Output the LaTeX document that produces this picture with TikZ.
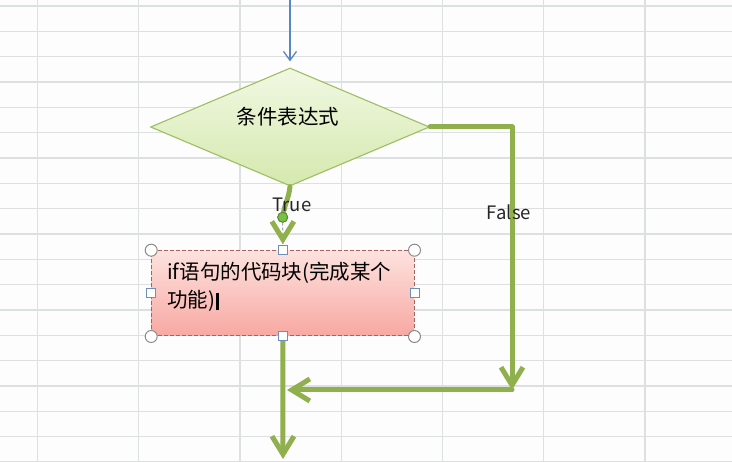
\documentclass[tikz,border=0pt]{standalone}
\usepackage{fontspec}
\newfontfamily\cjk{Noto Sans CJK SC}
\usetikzlibrary{arrows.meta,shapes.geometric}

\definecolor{sheetbg}{HTML}{FCFDFC}
\definecolor{gridgray}{HTML}{DDE0E1}
\definecolor{flowgreen}{HTML}{8FB04C}
\definecolor{diamondedge}{HTML}{9FBD62}
\definecolor{diamondtop}{HTML}{F1F8E2}
\definecolor{diamondbot}{HTML}{D5E9AE}
\definecolor{blocktop}{HTML}{FDE2DE}
\definecolor{blockbot}{HTML}{F8A8A2}
\definecolor{blockedge}{HTML}{A8625F}
\definecolor{entryblue}{HTML}{5B86C6}
\definecolor{handlegray}{HTML}{8C8C8C}
\definecolor{handleblue}{HTML}{6E8EBD}
\definecolor{dotgreen}{HTML}{79C043}

\newcommand{\textcursor}{\kern1pt\rule[-0.12em]{2.4pt}{0.86em}}

\begin{document}
\begin{tikzpicture}[x=1pt,y=-1pt,
  gridline/.style={draw=gridgray,line width=1.3pt},
  decision/.style={shape=diamond,draw=diamondedge,line width=1.1pt,
    top color=diamondtop,bottom color=diamondbot,inner sep=0pt,
    minimum width=279pt,minimum height=118pt},
  condtext/.style={font=\cjk\fontsize{20.5pt}{24pt}\selectfont,inner sep=0pt},
  codeblock/.style={shape=rectangle,draw=blockedge,line width=1pt,
    dash pattern=on 4pt off 2pt,top color=blocktop,bottom color=blockbot,
    inner sep=0pt,minimum width=262.3pt,minimum height=85.3pt},
  codetext/.style={font=\cjk\fontsize{20.5pt}{28pt}\selectfont,inner sep=0pt,
    text width=240pt,align=left},
  lbl/.style={font=\cjk\fontsize{18.5pt}{22pt}\selectfont,inner sep=0pt,text=black!85},
  flow/.style={draw=flowgreen,line width=5pt,line cap=round,line join=round},
  greentip/.style={-{Straight Barb[length=18pt,width=22pt]}},
  entryline/.style={draw=entryblue,line width=1.3pt,
    -{Straight Barb[length=9pt,width=13pt]}},
  cornerhandle/.style={shape=circle,draw=handlegray,fill=white,line width=1pt,
    minimum size=12pt,inner sep=0pt},
  sidehandle/.style={shape=rectangle,draw=handleblue,fill=white,line width=1pt,
    minimum size=9pt,inner sep=0pt},
  tdot/.style={shape=circle,draw=dotgreen!70!black,fill=dotgreen,line width=0.8pt,
    minimum size=10pt,inner sep=0pt},
  guide/.style={draw=gray!70,line width=1pt,dash pattern=on 3pt off 2pt}]

\useasboundingbox (0,0) rectangle (732,462);
\fill[sheetbg] (0,0) rectangle (732,462);

% spreadsheet cell grid
\foreach \k in {0,...,18}
  \draw[gridline] (0,6+25.33*\k) -- (732,6+25.33*\k);
\foreach \k in {0,...,6}
  \draw[gridline] (37.3+101.3*\k,0) -- (37.3+101.3*\k,462);

% decision and process shapes
\node[decision] (cond) at (290,127) {};
\node[condtext] (condLabel) at (288,117) {条件表达式};
\node[codeblock] (code) at (282.85,293.35) {};
\node[codetext,anchor=base west] (codeText) at (167,280)
  {if语句的代码块(完成某个\\功能)\textcursor};

% connector end points
\coordinate (entry) at (290,-2);
\coordinate (falseTurn) at (512,127);
\coordinate (falseDrop) at (512,390);
\coordinate (merge) at (283,390);
\coordinate (exitEnd) at (283,459);

% incoming arrow
\draw[entryline] (entry) -- ([yshift=6pt]cond.north);

% false branch
\draw[flow,greentip] (cond.east) -- (falseTurn) -- (falseDrop);
\draw[flow,greentip] (falseDrop) -- ([xshift=4pt]merge);
% exit
\draw[flow,greentip] (code.south) -- (exitEnd);

% true branch
\node[tdot] (trueDot) at (282.7,217.3) {};
\draw[flow] (cond.south) .. controls (289,198) and (284,205) .. (trueDot.center);
\node[tdot] at (trueDot) {};
\draw[guide] (trueDot.south) -- ([yshift=6pt]code.north);
\draw[flow,greentip] ([yshift=12pt]code.north) -- ([yshift=6pt]code.north);

% branch labels
\node[lbl] (trueLabel) at (292,205) {True};
\node[lbl] (falseLabel) at (509,212) {False};

% selection handles
\foreach \a/\n in {north west/hNW,north east/hNE,south west/hSW,south east/hSE}
  \node[cornerhandle] (\n) at (code.\a) {};
\foreach \a/\n in {north/hN,south/hS,west/hW,east/hE}
  \node[sidehandle] (\n) at (code.\a) {};

\end{tikzpicture}
\end{document}
